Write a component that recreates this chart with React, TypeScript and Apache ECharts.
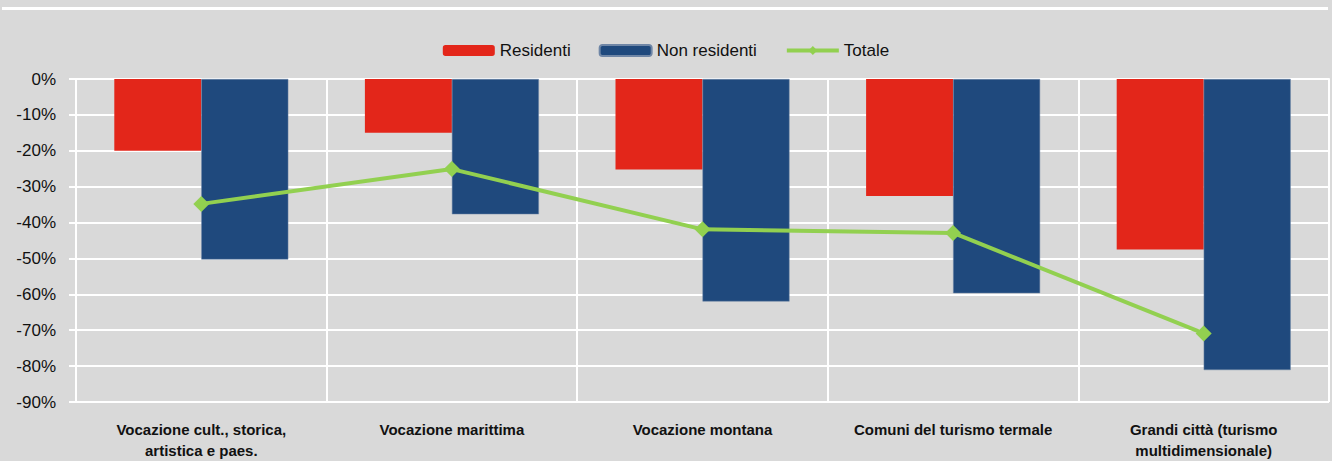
import React, { useEffect, useRef } from "react";
import * as echarts from "echarts";

const categories = [
  "Vocazione cult., storica,\nartistica e paes.",
  "Vocazione marittima",
  "Vocazione montana",
  "Comuni del turismo termale",
  "Grandi città (turismo\nmultidimensionale)",
];
const residenti = [-20.0, -15.0, -25.2, -32.6, -47.5];
const nonResidenti = [-50.3, -37.7, -62.0, -59.7, -81.1];
const totale = [-34.8, -25.1, -41.9, -42.9, -70.9];

const FONT = "'Liberation Sans Narrow', 'Arial Narrow', 'Liberation Sans', Arial, sans-serif";

export default function App() {
  const ref = useRef<HTMLDivElement>(null);
  useEffect(() => {
    document.body.style.margin = "0";
    const chart = echarts.init(ref.current!, null, { renderer: "svg" });
    chart.setOption({
      animation: false,
      backgroundColor: "#d9d9d9",
      textStyle: { fontFamily: FONT },
      graphic: [
        {
          type: "rect",
          shape: { x: 2, y: 7, width: 1326, height: 3 },
          style: { fill: "#ffffff" },
          silent: true,
        },
      ],
      legend: {
        top: 37,
        left: "center",
        itemWidth: 52,
        itemHeight: 11,
        itemGap: 28,
        lineStyle: { width: 4 },
        textStyle: { fontFamily: FONT, fontSize: 17, color: "#111" },
        data: ["Residenti", "Non residenti", "Totale"],
      },
      grid: { left: 76, right: 3, top: 79, bottom: 59, containLabel: false },
      xAxis: {
        type: "category",
        data: categories,
        boundaryGap: true,
        axisLine: { show: true, lineStyle: { color: "#ffffff", width: 2 } },
        axisTick: { show: false },
        splitLine: { show: true, lineStyle: { color: "#ffffff", width: 2 } },
        axisLabel: {
          interval: 0,
          margin: 17,
          fontFamily: FONT,
          fontSize: 15,
          fontWeight: "bold",
          color: "#111",
          lineHeight: 21,
          align: "center",
        },
      },
      yAxis: {
        type: "value",
        min: -90,
        max: 0,
        interval: 10,
        axisLine: { show: true, lineStyle: { color: "#ffffff", width: 2 } },
        axisTick: { show: true, inside: false, length: 7, lineStyle: { color: "#ffffff", width: 2 } },
        splitLine: { show: true, lineStyle: { color: "#ffffff", width: 2 } },
        axisLabel: {
          margin: 20,
          fontFamily: FONT,
          fontSize: 17,
          color: "#111",
          formatter: (v: number) => `${v}%`,
        },
      },
      series: [
        {
          name: "Residenti",
          type: "bar",
          data: residenti,
          barWidth: 87,
          barGap: "0%",
          itemStyle: { color: "#e3261a" },
        },
        {
          name: "Non residenti",
          type: "bar",
          data: nonResidenti,
          barWidth: 87,
          barGap: "0%",
          itemStyle: { color: "#1f497d", borderColor: "#6f86a6", borderWidth: 0.5 },
        },
        {
          name: "Totale",
          type: "line",
          data: totale,
          symbol: "diamond",
          symbolSize: 16,
          lineStyle: { color: "#92d050", width: 4 },
          itemStyle: { color: "#92d050" },
          z: 5,
        },
      ],
    });
    return () => chart.dispose();
  }, []);
  return <div ref={ref} style={{ width: 1332, height: 461 }} />;
}
